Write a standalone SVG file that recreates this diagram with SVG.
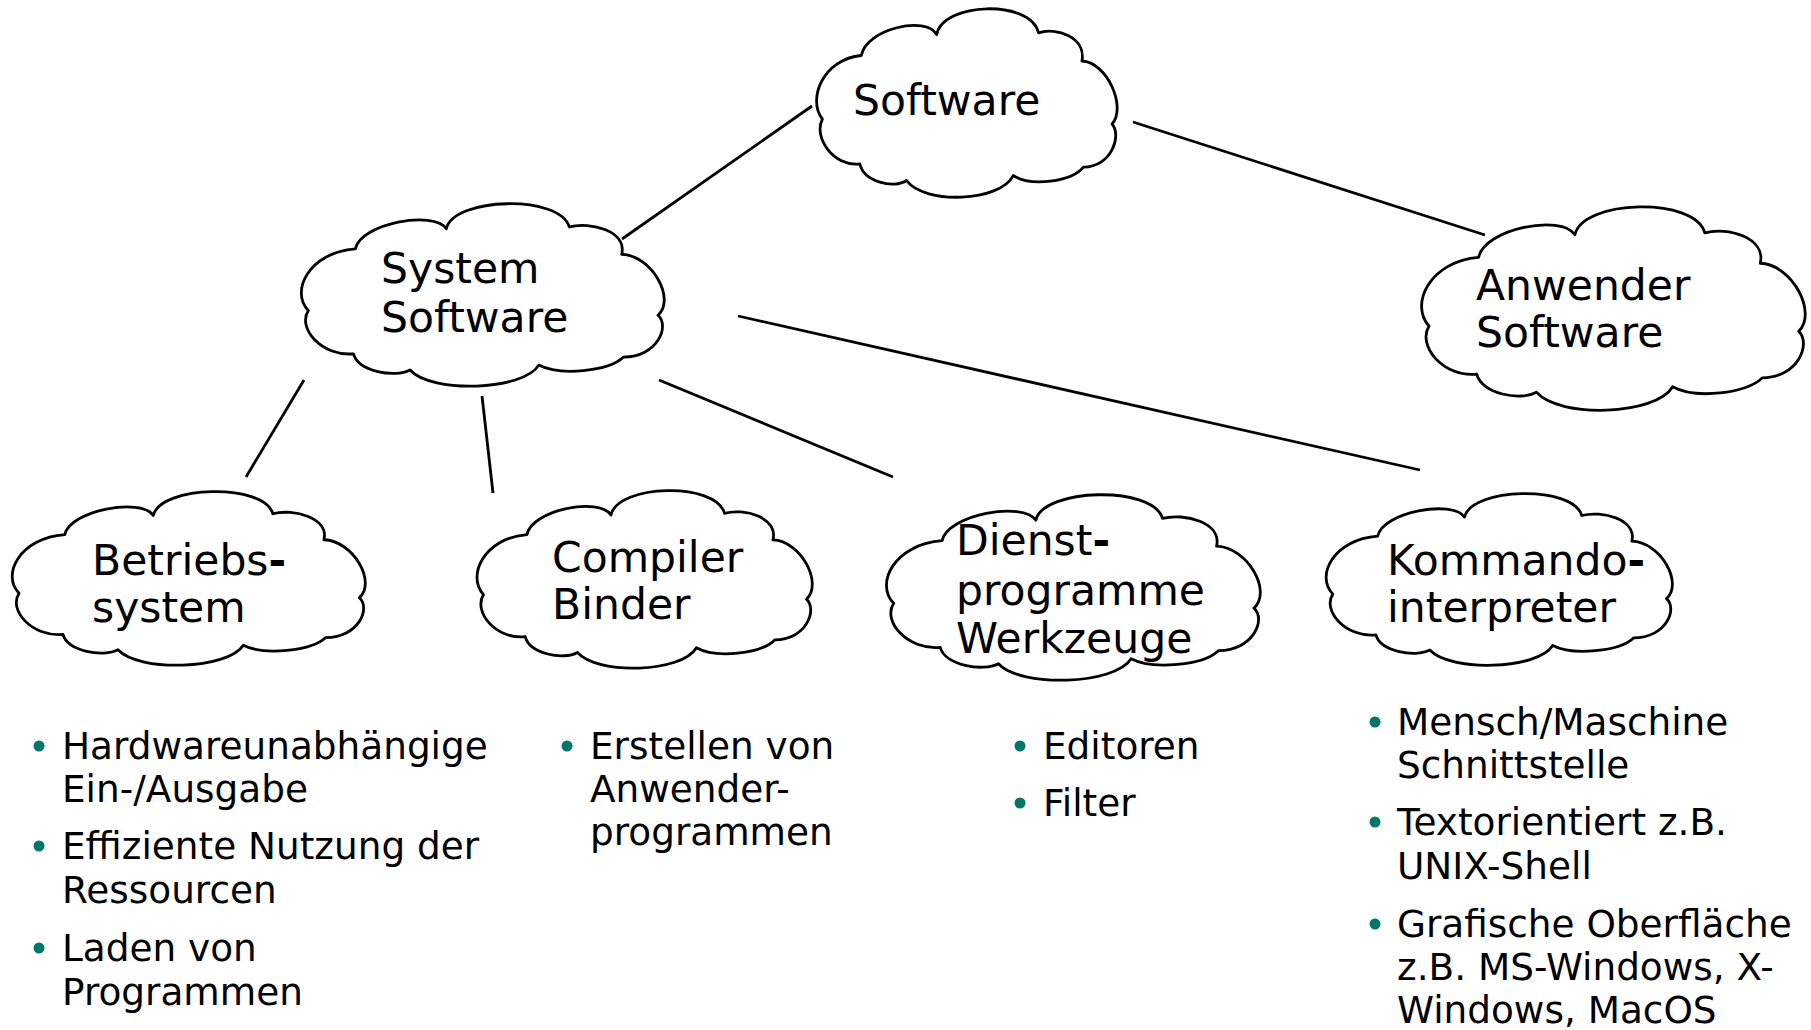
<svg xmlns="http://www.w3.org/2000/svg" xmlns:xlink="http://www.w3.org/1999/xlink" width="1811" height="1030" viewBox="0 0 1811 1030">
<style>
.cloud{fill:#fff;stroke:#000;stroke-width:2.8;vector-effect:non-scaling-stroke;stroke-linejoin:round}
.conn line{stroke:#000;stroke-width:2.8;stroke-linecap:butt}
.nt{font-family:"DejaVu Sans",sans-serif;font-size:42.5px;fill:#000}
.bt{font-family:"DejaVu Sans",sans-serif;font-size:37.4px;fill:#000}
.dot{fill:#00756a}
.hy{font-weight:bold}
</style>
<defs>
<path id="cloud" class="cloud" d="M 47.7 48.5 C 52 22 112 8 122.1 27.6 C 128 -5 215 -8 222.6 25.8 C 240 20 270 30 265.5 54 C 290 55 310 100 295.2 117 C 305 128 295 160 267 160.2 C 255 175 215 180 197.7 168.5 C 185 195 110 198 92.4 173.5 C 80 182 50 175 46.2 156.8 C 20 160 0 130 9.3 112.1 C -6 92 10 52 47.7 48.5 Z"/>
</defs>
<rect width="1811" height="1030" fill="#fff"/>
<g id="connectors" class="conn">
<line x1="812" y1="106" x2="622" y2="239"/>
<line x1="1133" y1="122" x2="1485" y2="235"/>
<line x1="304" y1="380" x2="246" y2="477"/>
<line x1="482" y1="396" x2="493" y2="493"/>
<line x1="659" y1="380" x2="893" y2="477"/>
<line x1="738" y1="316" x2="1420" y2="470"/>
</g>
<g id="software">
<use xlink:href="#cloud" transform="translate(813,7) scale(1.013,1)"/>
<text class="nt" x="853" y="115">Software</text>
</g>
<g id="system-software">
<use xlink:href="#cloud" transform="translate(297,202) scale(1.223,0.968)"/>
<text class="nt" x="381" y="283">System</text>
<text class="nt" x="381" y="332">Software</text>
</g>
<g id="anwender-software">
<use xlink:href="#cloud" transform="translate(1417,205) scale(1.293,1.079)"/>
<text class="nt" x="1476" y="300">Anwender</text>
<text class="nt" x="1476" y="347">Software</text>
</g>
<g id="betriebssystem">
<use xlink:href="#cloud" transform="translate(8,490) scale(1.19,0.921)"/>
<text class="nt" x="92" y="575">Betriebs<tspan class="hy">-</tspan></text>
<text class="nt" x="92" y="622">system</text>
</g>
<g id="compiler-binder">
<use xlink:href="#cloud" transform="translate(473,489) scale(1.13,0.942)"/>
<text class="nt" x="552" y="572">Compiler</text>
<text class="nt" x="552" y="619">Binder</text>
</g>
<g id="dienstprogramme">
<use xlink:href="#cloud" transform="translate(882,493) scale(1.26,0.984)"/>
<text class="nt" x="956" y="555">Dienst<tspan class="hy">-</tspan></text>
<text class="nt" x="956" y="605">programme</text>
<text class="nt" x="956" y="653">Werkzeuge</text>
</g>
<g id="kommandointerpreter">
<use xlink:href="#cloud" transform="translate(1322,492) scale(1.167,0.911)"/>
<text class="nt" x="1387" y="575">Kommando<tspan class="hy">-</tspan></text>
<text class="nt" x="1387" y="622">interpreter</text>
</g>
<g id="list-betriebssystem">
<circle class="dot" cx="39" cy="746" r="5.5"/>
<text class="bt" x="62" y="759">Hardwareunabhängige</text>
<text class="bt" x="62" y="802">Ein-/Ausgabe</text>
<circle class="dot" cx="39" cy="846" r="5.5"/>
<text class="bt" x="62" y="859">Effiziente Nutzung der</text>
<text class="bt" x="62" y="903">Ressourcen</text>
<circle class="dot" cx="39" cy="948" r="5.5"/>
<text class="bt" x="62" y="961">Laden von</text>
<text class="bt" x="62" y="1005">Programmen</text>
</g>
<g id="list-compiler">
<circle class="dot" cx="567" cy="746" r="5.5"/>
<text class="bt" x="590" y="759">Erstellen von</text>
<text class="bt" x="590" y="802">Anwender-</text>
<text class="bt" x="590" y="845">programmen</text>
</g>
<g id="list-dienst">
<circle class="dot" cx="1020" cy="746" r="5.5"/>
<text class="bt" x="1043" y="759">Editoren</text>
<circle class="dot" cx="1020" cy="803" r="5.5"/>
<text class="bt" x="1043" y="816">Filter</text>
</g>
<g id="list-kommando">
<circle class="dot" cx="1375" cy="722" r="5.5"/>
<text class="bt" x="1397" y="735">Mensch/Maschine</text>
<text class="bt" x="1397" y="778">Schnittstelle</text>
<circle class="dot" cx="1375" cy="822" r="5.5"/>
<text class="bt" x="1397" y="835">Textorientiert z.B.</text>
<text class="bt" x="1397" y="879">UNIX-Shell</text>
<circle class="dot" cx="1375" cy="924" r="5.5"/>
<text class="bt" x="1397" y="937">Grafische Oberfläche</text>
<text class="bt" x="1397" y="980">z.B. MS-Windows, X-</text>
<text class="bt" x="1397" y="1023">Windows, MacOS</text>
</g>
</svg>
